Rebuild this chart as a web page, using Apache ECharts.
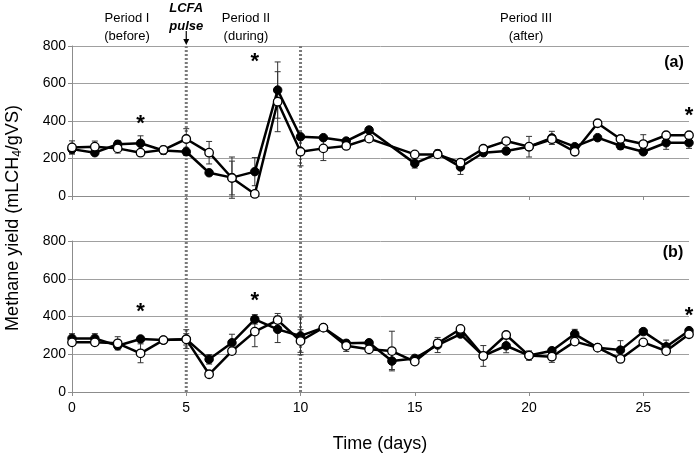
<!DOCTYPE html>
<html><head><meta charset="utf-8">
<script src="https://cdn.jsdelivr.net/npm/echarts@6/dist/echarts.min.js"></script>
<style>html,body{margin:0;padding:0;background:#fff}#c{width:697px;height:460px}</style>
</head><body><div id="c"></div>
<script>
const days = [0,1,2,3,4,5,6,7,8,9,10,11,12,13,14,15,16,17,18,19,20,21,22,23,24,25,26,27];
// Panel (a)
const topFilled = [250,231,276,281,243,236,124,98,130,565,316,311,293,352,null,174,226,155,231,240,263,310,263,311,268,236,284,284];
const topOpen   = [259,263,254,231,246,304,231,96,11,503,236,254,267,306,null,222,222,178,252,293,263,303,236,388,304,277,324,324];
const topFilledErr = [25,15,20,40,20,20,0,110,75,150,0,0,0,0,null,25,20,40,15,15,0,35,0,0,20,0,35,30];
const topOpenErr   = [35,30,25,15,20,55,60,90,0,160,75,65,0,0,null,0,0,0,15,0,55,0,0,0,0,50,0,0];
// Panel (b)
const botFilled = [284,284,245,281,275,280,173,261,385,332,297,341,258,261,164,178,249,307,191,245,193,219,307,235,222,320,240,325];
const botOpen   = [263,263,258,205,275,279,94,217,320,381,270,341,245,226,217,161,258,334,191,302,193,187,267,235,175,263,217,306];
const botFilledErr = [25,25,15,15,15,50,25,45,25,70,100,0,0,15,45,0,40,15,0,37,0,15,25,0,50,0,35,0];
const botOpenErr   = [15,15,35,50,15,30,0,0,80,35,60,15,30,0,105,0,20,0,55,0,25,30,0,0,0,0,0,0];
// Significance markers: [day, value]
const starsTop = [[3,405],[8,736],[27,448]];
const starsBot = [[3,445],[8,503],[27,424]];
const xTicks = [0,5,10,15,20,25];
const yTicks = [0,200,400,600,800];
const pulseDays = [5,10];

function pts(vals){ const r=[]; days.forEach((d,i)=>{ if(vals[i]!==null) r.push([d,vals[i]]); }); return r; }
function errs(vals,e){ const r=[]; days.forEach((d,i)=>{ if(vals[i]!==null && e[i]) r.push([d,vals[i],e[i]]); }); return r; }

function errRender(params, api){
  const x=api.value(0), y=api.value(1), e=api.value(2);
  const hi=api.coord([x,y+e]), lo=api.coord([x,y-e]);
  const st={stroke:'#333',lineWidth:1};
  return {type:'group',children:[
    {type:'line',shape:{x1:hi[0],y1:hi[1],x2:lo[0],y2:lo[1]},style:st},
    {type:'line',shape:{x1:hi[0]-3,y1:hi[1],x2:hi[0]+3,y2:hi[1]},style:st},
    {type:'line',shape:{x1:lo[0]-3,y1:lo[1],x2:lo[0]+3,y2:lo[1]},style:st}
  ]};
}

const FONT='"Liberation Sans", Arial, sans-serif';
const gridColor='#a0a0a0';

function xAx(gi, labels){
  return {type:'value',gridIndex:gi,min:0,max:27,interval:5,
    axisLine:{show:true,lineStyle:{color:'#8c8c8c',width:1}},
    axisTick:{show:true,length:4,customValues:xTicks,lineStyle:{color:'#8c8c8c'}},
    axisLabel:{show:labels,customValues:xTicks,fontSize:14,color:'#000',fontFamily:FONT,margin:9},
    splitLine:{show:false}};
}
function yAx(gi){
  return {type:'value',gridIndex:gi,min:0,max:800,interval:200,
    axisLine:{show:true,lineStyle:{color:'#8c8c8c',width:1}},
    axisTick:{show:true,length:4,lineStyle:{color:'#8c8c8c'}},
    axisLabel:{fontSize:14,color:'#000',fontFamily:FONT,margin:6},
    splitLine:{show:true,lineStyle:{color:gridColor,width:1}}};
}
function lineS(gi,data,filled){
  return {type:'line',xAxisIndex:gi,yAxisIndex:gi,data:pts(data),symbol:'circle',symbolSize:8.5,
    z: filled?3:4,
    lineStyle:{color:'#000',width:2.5},
    itemStyle:filled?{color:'#000',borderColor:'#000',borderWidth:1}:{color:'#fff',borderColor:'#000',borderWidth:1.3},
    animation:false};
}
function errS(gi,data,e){
  return {type:'custom',xAxisIndex:gi,yAxisIndex:gi,data:errs(data,e),renderItem:errRender,z:2,animation:false};
}

const chart = echarts.init(document.getElementById('c'));
chart.setOption({
  animation:false,
  backgroundColor:'#fff',
  grid:[{left:72,top:46,width:617,height:150},{left:72,top:241,width:617,height:151}],
  xAxis:[xAx(0,false),xAx(1,true)],
  yAxis:[yAx(0),yAx(1)],
  series:[
    errS(0,topFilled,topFilledErr), errS(0,topOpen,topOpenErr),
    lineS(0,topFilled,true), lineS(0,topOpen,false),
    errS(1,botFilled,botFilledErr), errS(1,botOpen,botOpenErr),
    lineS(1,botFilled,true), lineS(1,botOpen,false)
  ]
});

const g=[];
const yTop = chart.convertToPixel({yAxisIndex:0},800);
const yBot = chart.convertToPixel({yAxisIndex:1},0);
pulseDays.forEach(d=>{
  const px = chart.convertToPixel({xAxisIndex:0},d);
  g.push({type:'line',z:1,shape:{x1:px,y1:yTop,x2:px,y2:yBot},style:{stroke:'#7a7a7a',lineWidth:3,lineDash:[2,2]}});
});
// arrow for LCFA pulse
const p5 = chart.convertToPixel({xAxisIndex:0},5);
g.push({type:'line',shape:{x1:p5,y1:31,x2:p5,y2:41},style:{stroke:'#000',lineWidth:1.2}});
g.push({type:'polygon',shape:{points:[[p5-3,39],[p5+3,39],[p5,45]]},style:{fill:'#000'}});
function txt(x,y,t,font){ g.push({type:'text',x:x,y:y,style:{text:t,font:font,fill:'#000',align:'center',verticalAlign:'middle',lineHeight:18}}); }
txt(127,27,'Period I\n(before)','13px '+FONT);
txt(p5,17,'LCFA\npulse','italic bold 13px '+FONT);
txt(246,27,'Period II\n(during)','13px '+FONT);
txt(526,27,'Period III\n(after)','13px '+FONT);
txt(674,63,'(a)','bold 16px '+FONT);
txt(673,253,'(b)','bold 16px '+FONT);
starsTop.forEach(s=>{ const p=chart.convertToPixel({gridIndex:0},s); txt(p[0],p[1]+4,'*','bold 22px '+FONT); });
starsBot.forEach(s=>{ const p=chart.convertToPixel({gridIndex:1},s); txt(p[0],p[1]+4,'*','bold 22px '+FONT); });
txt(380,444,'Time (days)','18px '+FONT);
g.push({type:'text',x:13,y:218,rotation:Math.PI/2,style:{
  text:'{a|Methane yield (mLCH}{s|4}{a|/gVS)}',align:'center',verticalAlign:'middle',fill:'#000',
  rich:{a:{fontSize:18,fontFamily:FONT,color:'#000',lineHeight:24},s:{fontSize:12,fontFamily:FONT,color:'#000',padding:[10,0,0,0],lineHeight:24}}}});
chart.setOption({graphic:g});
</script></body></html>
